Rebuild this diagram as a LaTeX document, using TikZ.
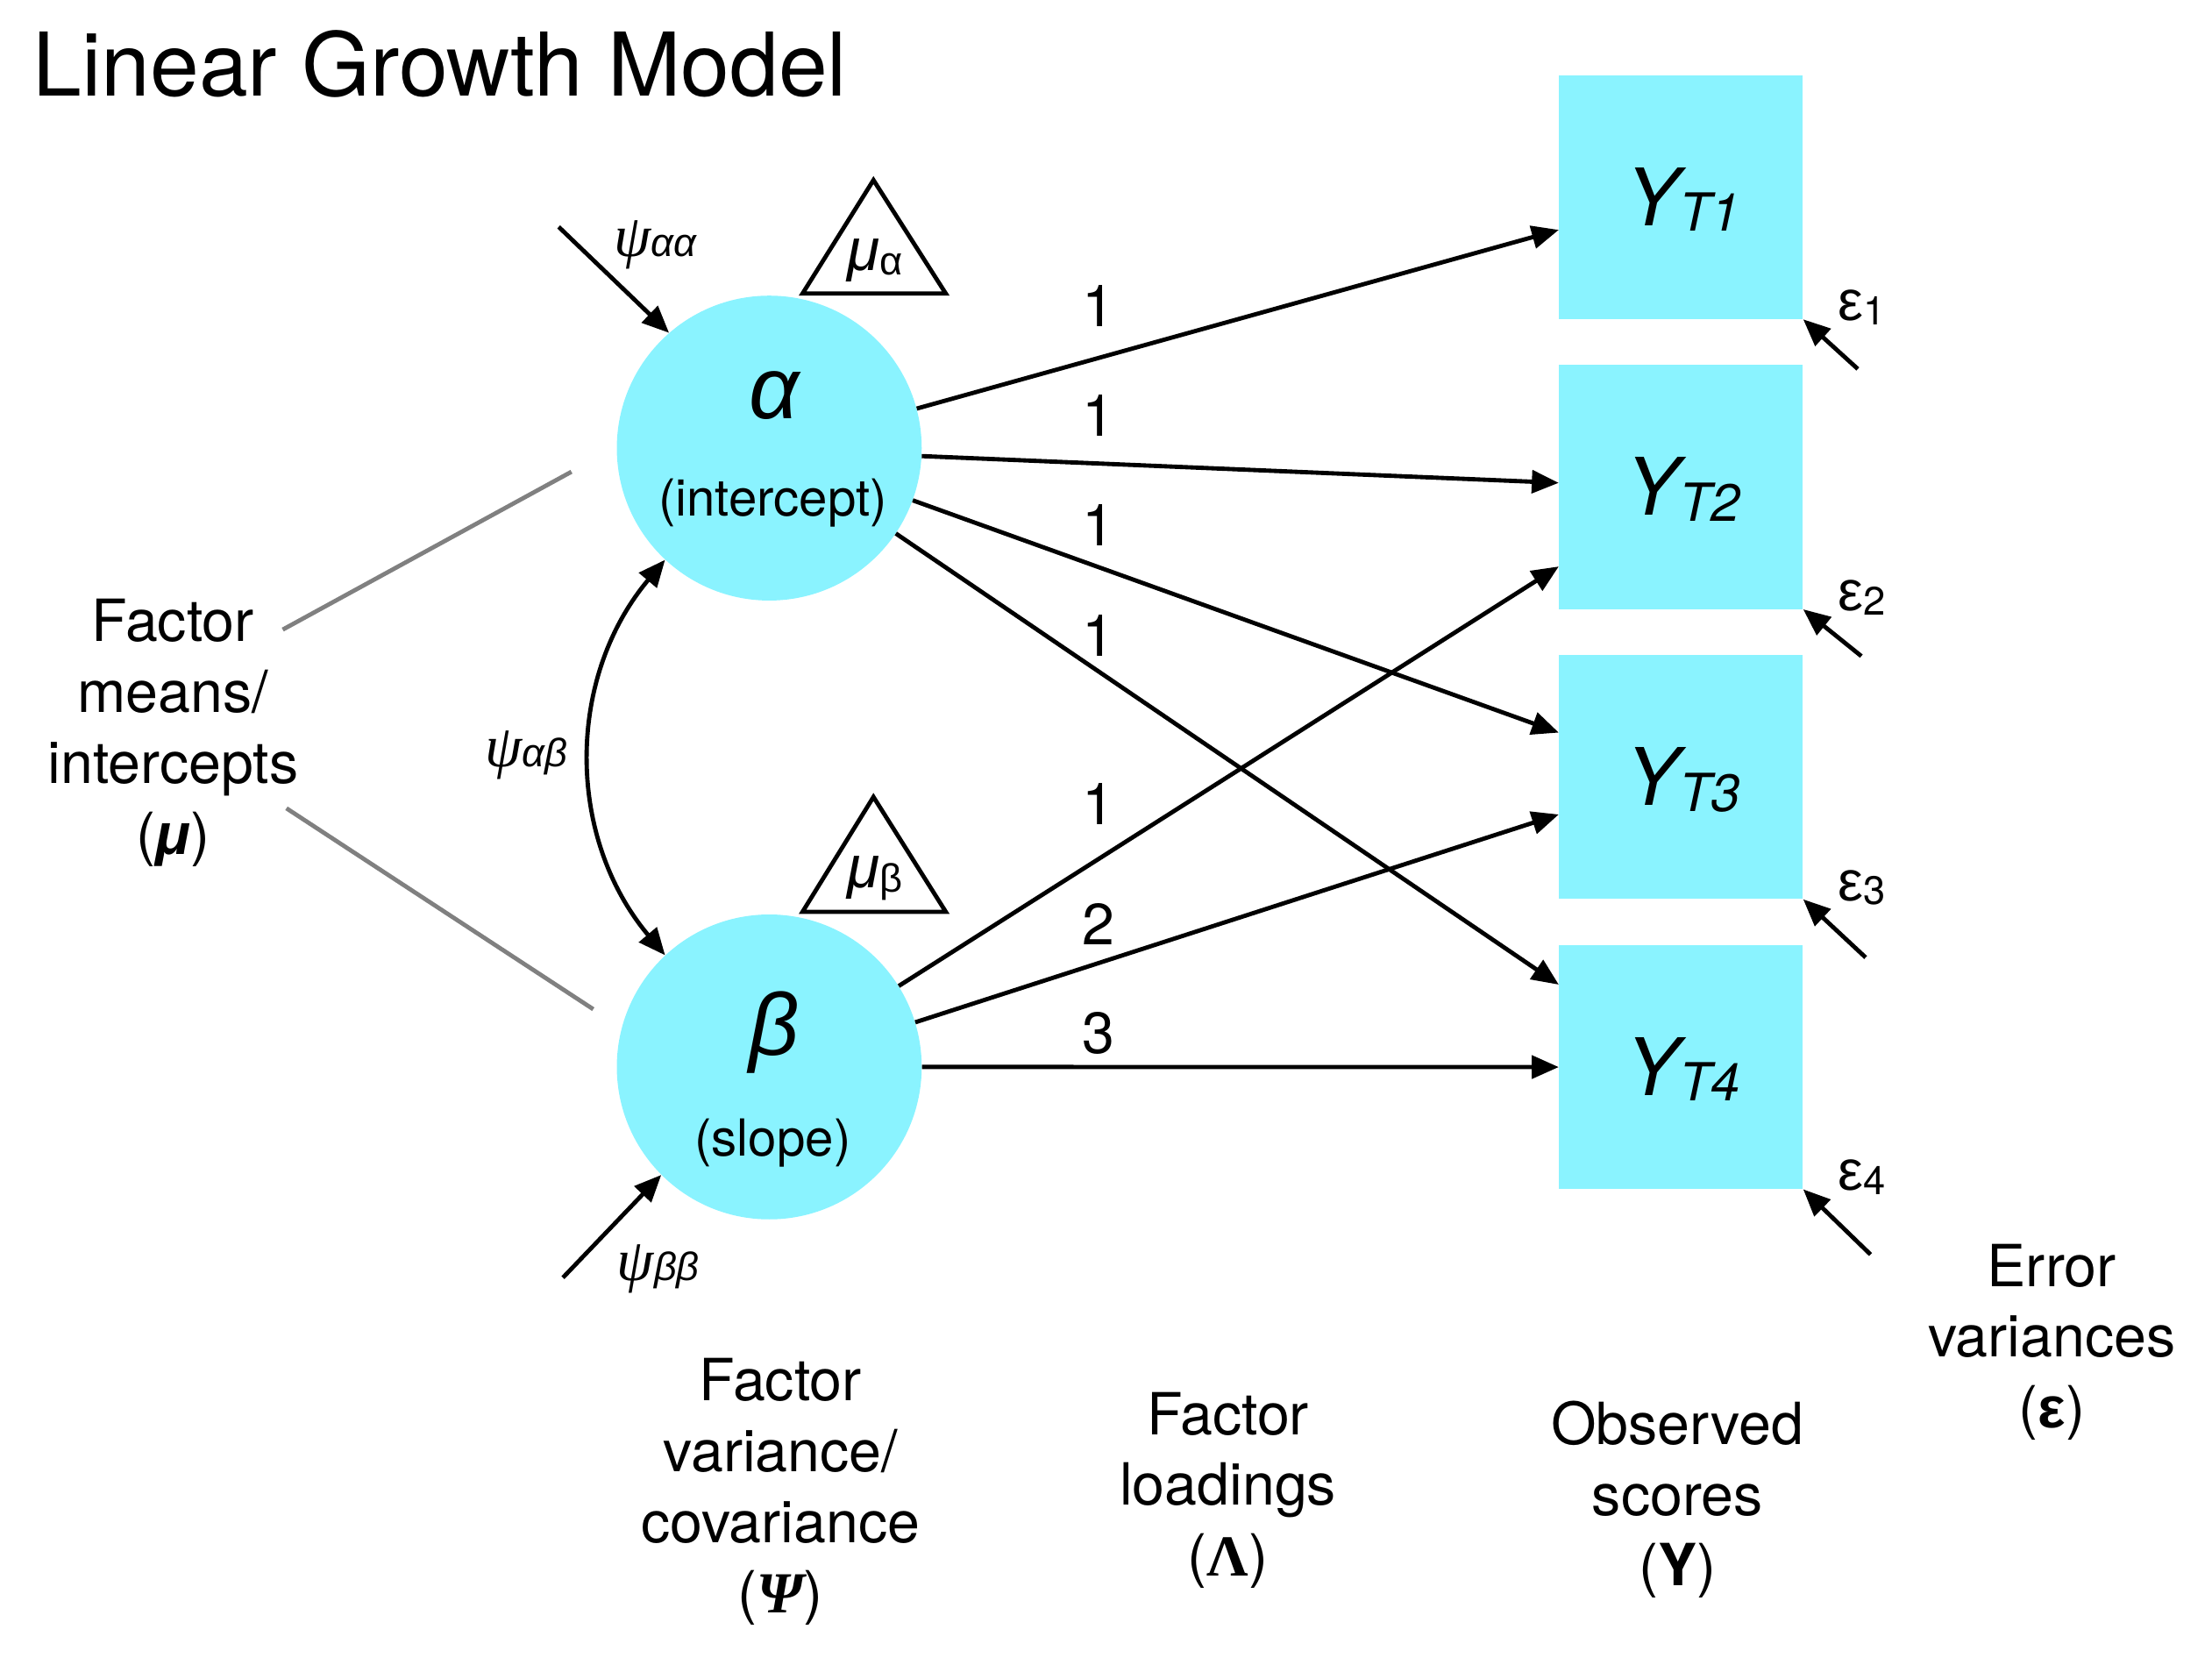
\documentclass[tikz,border=0pt]{standalone}
\usepackage{fontspec}
\setmainfont{TeX Gyre Heros}
\newfontfamily\greeksans{Liberation Sans}
\newfontfamily\greekserif{Liberation Serif}
\usetikzlibrary{arrows.meta}

\definecolor{lgmcyan}{RGB}{138,243,255}
\definecolor{lgmgray}{RGB}{128,128,128}

\newcommand{\fs}[1]{\fontsize{#1}{#1}\selectfont}
\newcommand{\ysub}[1]{{\fs{56}\itshape Y}\raisebox{-4pt}{\fs{37}\itshape T#1}}
\newcommand{\epssub}[1]{{\greeksans\fs{40}ε}\raisebox{-3pt}{\fs{28}#1}}
\newcommand{\psisub}[1]{{\greekserif\itshape\fs{42}ψ}{\greeksans\itshape\fs{28}#1}}
\newcommand{\musub}[1]{{\greeksans\itshape\fs{42}μ}\raisebox{-3pt}{\greeksans\fs{28}#1}}

\tikzset{
  latent/.style={circle, fill=lgmcyan, minimum size=215pt, inner sep=0pt},
  manifest/.style={rectangle, fill=lgmcyan, minimum size=172pt, inner sep=0pt},
  loading/.style={line width=3pt, -{Triangle[length=19pt,width=16pt]}},
  covar/.style={line width=3pt, {Triangle[length=19pt,width=16pt]}-{Triangle[length=19pt,width=16pt]}},
  meanline/.style={line width=3pt, lgmgray},
  caption/.style={align=center, inner sep=0pt, anchor=north, font=\fontsize{41}{50}\selectfont},
  txt/.style={inner sep=0pt, anchor=base},
  loadlab/.style={inner sep=0pt, font=\fs{41}},
}

\begin{document}
\begin{tikzpicture}[x=1pt, y=-1pt]
  \useasboundingbox (0,0) rectangle (1560,1179);

  \node[txt, anchor=base west] (title) at (23,68) {\fs{62}Linear Growth Model};

  % growth factors
  \node[latent] (alpha) at (542.5,316) {};
  \node[latent] (beta)  at (542.5,752.4) {};
  \node[txt] (alphasym) at (546,295) {\greeksans\fs{62}\itshape α};
  \node[txt] (alphalab) at (545,364) {\fs{36}(intercept)};
  \node[txt] (betasym)  at (546,744) {\greeksans\fs{62}\itshape β};
  \node[txt] (betalab)  at (545,815) {\fs{36}(slope)};

  % factor means
  \draw[line width=3pt] (616,127) -- (667,207) -- (566,207) -- cycle;
  \draw[line width=3pt] (616,562) -- (667,643) -- (566,643) -- cycle;
  \node[txt] (mua) at (617,191) {\musub{α}};
  \node[txt] (mub) at (617,626) {\musub{β}};

  % observed scores and errors
  \foreach \i/\y in {1/139, 2/343.5, 3/548, 4/752.5} {
    \node[manifest] (y\i) at (1185.5,\y) {};
    \node[txt] (y\i lab) at (1187,\y+20) {\ysub{\i}};
    \node[txt, anchor=base west] (eps\i) at (1296,\y+87) {\epssub{\i}};
  }
  \foreach \i/\dx/\dy in {1/38.5/35, 2/41/33, 3/44/41, 4/47.5/46} {
    \coordinate (e\i) at ([shift={(\dx,\dy)}]y\i.south east);
    \draw[loading] (e\i) -- (y\i.south east);
  }

  % loadings
  \draw[loading] (alpha.15)  -- (y1.195);
  \draw[loading] (alpha.357) -- (y2.178);
  \draw[loading] (alpha.340) -- (y3.160);
  \draw[loading] (alpha.326) -- (y4.146);
  \draw[loading] (beta.32)   -- (y2.213);
  \draw[loading] (beta.17)   -- (y3.197);
  \draw[loading] (beta.east) -- (y4.west);

  \node[loadlab] (l1) at (775,215.7) {1};
  \node[loadlab] (l2) at (775,293) {1};
  \node[loadlab] (l3) at (775,370.5) {1};
  \node[loadlab] (l4) at (775,448) {1};
  \node[loadlab] (l5) at (775,567) {1};
  \node[loadlab] (l6) at (775,651.5) {2};
  \node[loadlab] (l7) at (775,728.7) {3};

  % variances / covariance
  \coordinate (psiaa) at (394,160);
  \coordinate (psibb) at (397,901);
  \draw[loading] (psiaa) -- (alpha.131);
  \draw[loading] (psibb) -- (beta.225);
  \draw[covar] (alpha.227) to[bend right=40] (beta.133);
  \node[txt, anchor=base west] (psiaalab) at (433,181) {\psisub{αα}};
  \node[txt, anchor=base west] (psiablab) at (342,541) {\psisub{αβ}};
  \node[txt, anchor=base west] (psibblab) at (435,903) {\psisub{ββ}};

  % captions
  \node[caption] (meancap) at (122,422.5) {Factor\\means/\\intercepts\\({\greeksans\bfseries\itshape μ})};
  \coordinate (m1) at (403,332.7);
  \coordinate (m2) at (199.4,444);
  \coordinate (m3) at (202,570);
  \coordinate (m4) at (418.4,711.7);
  \draw[meanline] (m1) -- (m2);
  \draw[meanline] (m3) -- (m4);

  \node[caption] (varcap)  at (550.5,957.5) {Factor\\variance/\\covariance\\({\greekserif\bfseries\itshape Ψ})};
  \node[caption] (loadcap) at (866,981.5) {Factor\\loadings\\({\greekserif\bfseries Λ})};
  \node[caption] (obscap)  at (1183,987.6) {Observed\\scores\\({\bfseries Y})};
  \node[caption] (errcap)  at (1447,877) {Error\\variances\\({\greeksans\bfseries ε})};
\end{tikzpicture}
\end{document}
